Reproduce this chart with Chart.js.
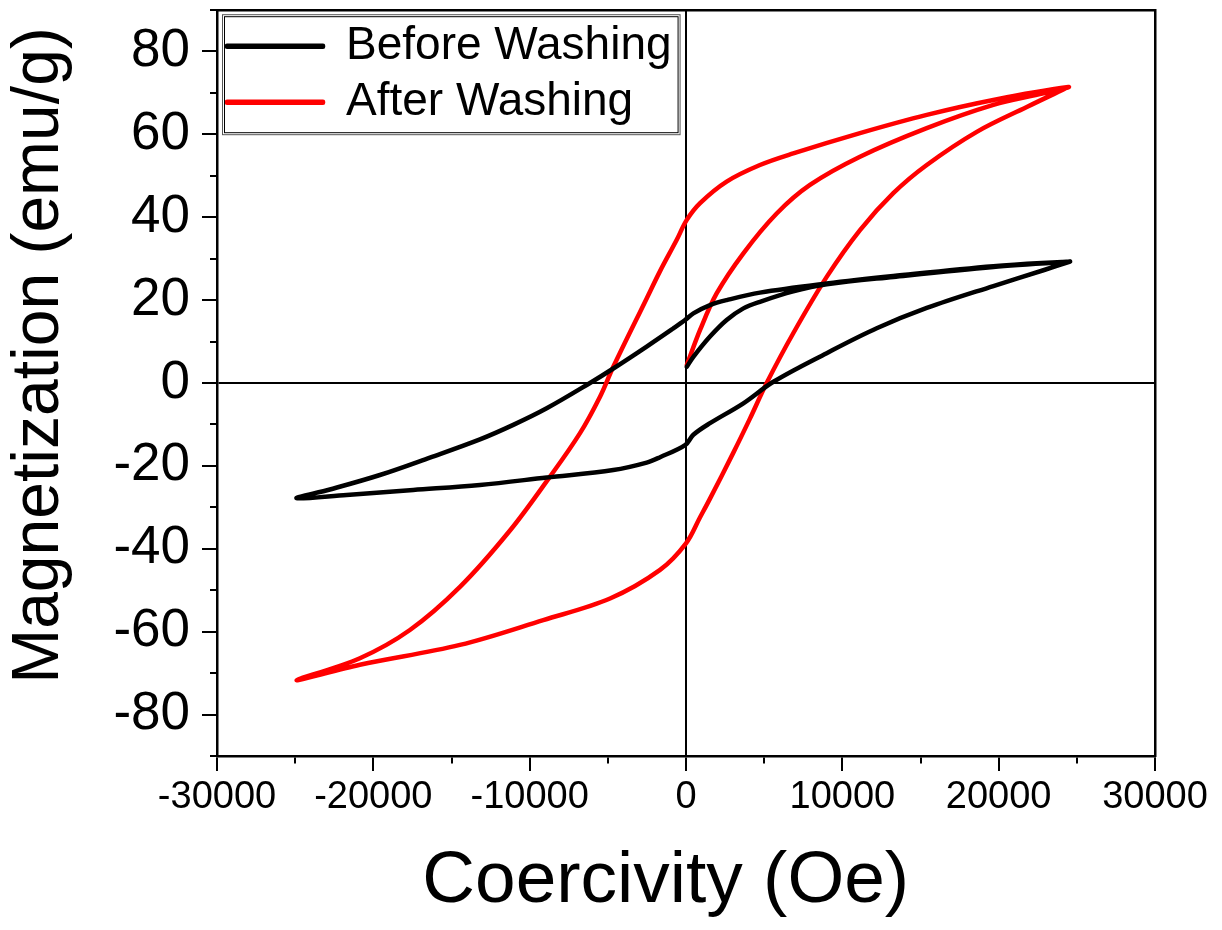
<!DOCTYPE html>
<html>
<head>
<meta charset="utf-8">
<script src="https://cdn.jsdelivr.net/npm/chart.js@4.4.1/dist/chart.umd.min.js"></script>
<style>
  html, body { margin: 0; padding: 0; background: #fff; }
  #wrap { width: 1222px; height: 930px; }
</style>
</head>
<body>
<div id="wrap"><canvas id="myChart"></canvas></div>
<script>
// Hysteresis loops: virgin curve, descending branch, ascending branch
const beforeField = [50, 470, 1535, 2600, 3670, 4730, 6860, 9000, 13260, 19660, 24570,
  19660, 13260, 9000, 4730, 2600, 1535, 470, -60, -810, -2515, -4650, -6140, -8910, -11050, -13180, -16380, -19580, -22780, -24910,
  -21710, -17450, -13180, -8910, -4650, -2515, -1660, -60, 470, 1535, 3670, 5590, 9000, 12200, 15400, 19660, 22860, 24570];
const beforeMag = [3.9, 6.3, 11.2, 15.2, 18.0, 19.6, 22.1, 23.8, 25.6, 28.0, 29.3,
  28.2, 25.8, 24.0, 21.8, 20.0, 18.8, 16.8, 15.2, 13.2, 8.8, 3.5, 0, -6.1, -10.1, -13.6, -18.0, -22.2, -25.7, -27.8,
  -27.0, -25.8, -24.6, -22.8, -21.0, -19.2, -17.9, -15.0, -12.5, -9.7, -4.9, 0.3, 7.2, 13.2, 18.1, 23.4, 27.2, 29.3];

const afterField = [50, 900, 1960, 3670, 5800, 7930, 11130, 15400, 19660, 22860, 24460,
  19660, 15400, 11130, 6860, 4730, 2600, 900, 40, -600, -1660, -2515, -4650, -5500, -6780, -8700, -11260, -14460, -17660, -20860, -24910,
  -20860, -14460, -9130, -4860, -1660, 0, 900, 1535, 3030, 4090, 5160, 6860, 9000, 11130, 13260, 15400, 18600, 21800, 24460];
const afterMag = [4.3, 12.8, 21.6, 31.3, 40.9, 47.8, 54.6, 61.5, 67.1, 69.9, 71.4,
  68.3, 64.7, 60.3, 55.4, 52.6, 48.6, 43.4, 39.3, 34.5, 27.0, 20.4, 3.9, -3.3, -12.1, -22.6, -35.6, -49.2, -59.6, -66.4, -71.7,
  -68.0, -63.2, -57.2, -52.0, -45.1, -38.7, -32.4, -27.9, -16.8, -8.6, 0, 12.0, 25.6, 36.9, 45.8, 52.6, 60.6, 66.6, 71.4];

const seriesNames = ['Before Washing', 'After Washing'];
const seriesColors = ['#000000', '#ff0000'];

const xTicks = { min: -30000, max: 30000, step: 5000, major: 10000 };
const yTicks = { min: -90, max: 90, step: 10, major: 20 };

const toPoints = (xs, ys) => xs.map((x, i) => ({ x: x, y: ys[i] }));

Chart.defaults.font.family = "'Liberation Sans', Arial, sans-serif";
Chart.defaults.color = '#000';

// marco doble alrededor de la leyenda
const legendFrame = {
  id: 'legendFrame',
  afterDraw(chart) {
    const boxes = chart.legend && chart.legend.legendHitBoxes;
    if (!boxes || !boxes.length) return;
    const left = Math.min(...boxes.map(b => b.left)) - 5;
    const top = Math.min(...boxes.map(b => b.top)) - 9;
    const right = Math.max(...boxes.map(b => b.left + b.width)) + 8;
    const bottom = Math.max(...boxes.map(b => b.top + b.height)) + 9;
    const ctx = chart.ctx;
    ctx.save();
    ctx.lineWidth = 1;
    ctx.strokeStyle = '#555';
    ctx.strokeRect(left + 0.5, top + 0.5, right - left, bottom - top);
    ctx.strokeStyle = '#000';
    ctx.strokeRect(left + 2.5, top + 2.5, right - left - 4, bottom - top - 4);
    ctx.restore();
  }
};

const zeroLine = (ctx) => ctx.tick && ctx.tick.value === 0 ? '#000' : 'rgba(0,0,0,0)';

// sin relleno extra por las etiquetas de los extremos
const fixWidth = (w) => (s) => { s.width = w; s.paddingTop = 0; s.paddingBottom = 0; };
const fixHeight = (h) => (s) => { s.height = h; s.paddingLeft = 0; s.paddingRight = 0; };

const ctx = document.getElementById('myChart').getContext('2d');
new Chart(ctx, {
  type: 'line',
  data: {
    datasets: [
      { label: seriesNames[0], data: toPoints(beforeField, beforeMag) },
      { label: seriesNames[1], data: toPoints(afterField, afterMag) }
    ].map((ds, i) => Object.assign(ds, {
      borderColor: seriesColors[i],
      backgroundColor: seriesColors[i],
      borderWidth: 4.5,
      pointRadius: 0,
      tension: 0.35,
      fill: false,
      borderCapStyle: 'round',
      borderJoinStyle: 'round'
    }))
  },
  options: {
    responsive: true,
    maintainAspectRatio: false,
    devicePixelRatio: 1,
    animation: false,
    layout: { padding: { top: 10, right: 67, bottom: 0, left: 0 } },
    scales: {
      x: {
        type: 'linear',
        position: 'bottom',
        min: xTicks.min,
        max: xTicks.max,
        afterFit: fixHeight(174),
        ticks: {
          stepSize: xTicks.step,
          autoSkip: false,
          maxRotation: 0,
          padding: 4,
          font: { size: 38 },
          color: '#000',
          callback: (v) => v % xTicks.major === 0 ? String(v) : ''
        },
        grid: {
          color: zeroLine,
          lineWidth: 2,
          tickLength: 15,
          tickColor: '#000',
          tickWidth: 2,
          tickBorderDash: (c) => c.tick && c.tick.value % xTicks.major === 0 ? [] : [6, 100]
        },
        border: { display: true, color: '#000', width: 2.5 },
        title: {
          display: true,
          text: 'Coercivity (Oe)  ',
          font: { size: 73 },
          color: '#000',
          padding: { top: 0, bottom: 4 }
        }
      },
      y: {
        type: 'linear',
        position: 'left',
        min: yTicks.min,
        max: yTicks.max,
        afterFit: fixWidth(217),
        ticks: {
          stepSize: yTicks.step,
          autoSkip: false,
          padding: 12,
          font: { size: 53 },
          color: '#000',
          callback: (v) => v % yTicks.major === 0 ? String(v) : ''
        },
        grid: {
          color: zeroLine,
          lineWidth: 2,
          tickLength: 15,
          tickColor: '#000',
          tickWidth: 2,
          tickBorderDash: (c) => c.tick && c.tick.value % yTicks.major === 0 ? [] : [0, 8, 7, 100]
        },
        border: { display: true, color: '#000', width: 2.5 },
        title: {
          display: true,
          text: '   Magnetization (emu/g)',
          font: { size: 66 },
          color: '#000',
          padding: { top: 0, bottom: 0 }
        }
      },
      xTop: {
        type: 'linear',
        position: 'top',
        min: xTicks.min,
        max: xTicks.max,
        afterFit: fixHeight(0),
        ticks: { display: false },
        grid: { drawOnChartArea: false, drawTicks: false },
        border: { display: true, color: '#000', width: 2.5 }
      },
      yRight: {
        type: 'linear',
        position: 'right',
        min: yTicks.min,
        max: yTicks.max,
        afterFit: fixWidth(0),
        ticks: { display: false },
        grid: { drawOnChartArea: false, drawTicks: false },
        border: { display: true, color: '#000', width: 2.5 }
      }
    },
    plugins: {
      legend: {
        position: 'chartArea',
        align: 'start',
        // título vacío: sólo baja las entradas hasta el borde superior del área
        title: { display: true, text: ' ', font: { size: 1 }, padding: { top: 12, bottom: 0 } },
        labels: {
          boxWidth: 96,
          boxHeight: 1,
          padding: 10,
          color: '#000',
          font: { size: 46 }
        }
      },
      tooltip: { enabled: false }
    }
  },
  plugins: [legendFrame]
});
</script>
</body>
</html>
